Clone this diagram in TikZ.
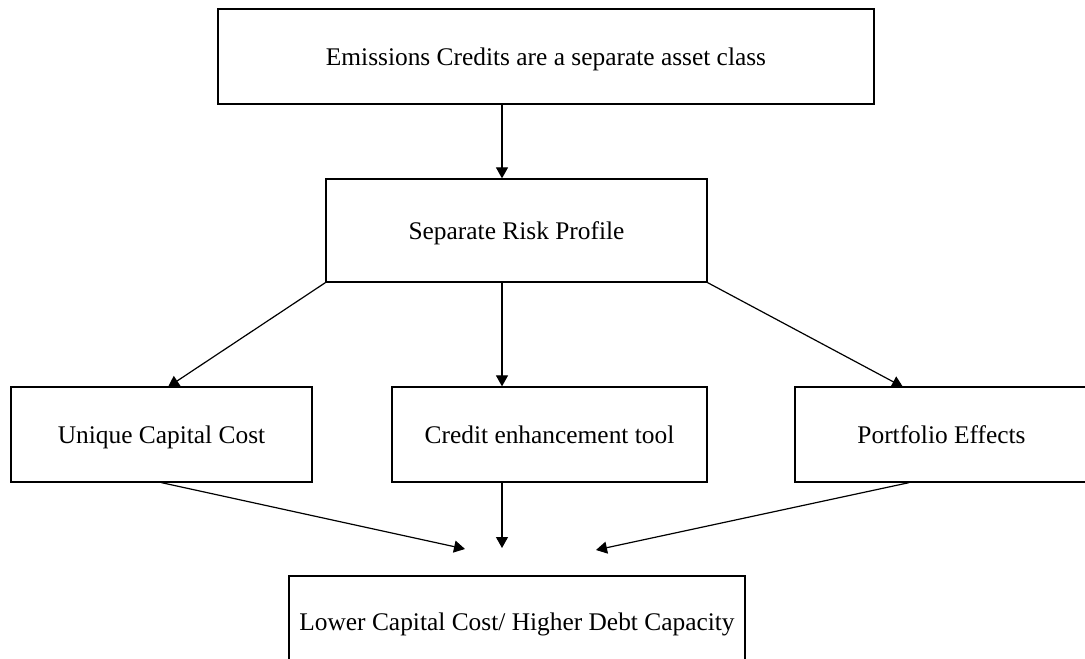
\documentclass[tikz,border=0pt]{standalone}
\usepackage{fontspec}
\setmainfont{Liberation Serif}
\usetikzlibrary{arrows.meta}
\begin{document}
\begin{tikzpicture}[x=1pt,y=-1pt,
  box/.style={draw, line width=1.3pt, inner sep=0pt, align=center,
    text height=17pt, text depth=0pt,
    font=\fontsize{25.4}{30}\selectfont},
  arr/.style={line width=1.2pt, -{Triangle[length=11pt,width=12pt]}}]
\useasboundingbox (0,0) rectangle (1085,659);
\fill[white] (0,0) rectangle (1085,659);
\clip (0,0) rectangle (1085,659);
\node[box, minimum width=656pt, minimum height=95pt] (top) at (546,56.5) {Emissions Credits are a separate asset class};
\node[box, minimum width=381pt, minimum height=103pt] (risk) at (516.5,230.5) {Separate Risk Profile};
\node[box, minimum width=301pt, minimum height=95pt] (unique) at (161.5,434.5) {Unique Capital Cost};
\node[box, minimum width=315pt, minimum height=95pt] (credit) at (549.5,434.5) {Credit enhancement tool};
\node[box, minimum width=293pt, minimum height=95pt] (portfolio) at (941.5,434.5) {Portfolio Effects};
\node[box, minimum width=456pt, minimum height=92pt] (lower) at (517,622) {Lower Capital Cost/ Higher Debt Capacity};
\coordinate (mx) at (502,0);
\coordinate (px) at (909,0);
\coordinate (uTop) at (168,387);
\coordinate (pTop) at (903,387);
\coordinate (t1) at (465,549);
\coordinate (t2) at (502,548);
\coordinate (t3) at (596,550);
\draw[arr] (top.south -| mx) -- (risk.north -| mx);
\draw[arr] (risk.south west) -- (uTop);
\draw[arr] (risk.south -| mx) -- (credit.north -| mx);
\draw[arr] (risk.south east) -- (pTop);
\draw[arr] (unique.south) -- (t1);
\draw[arr] (credit.south -| mx) -- (t2);
\draw[arr] (portfolio.south -| px) -- (t3);
\end{tikzpicture}
\end{document}
